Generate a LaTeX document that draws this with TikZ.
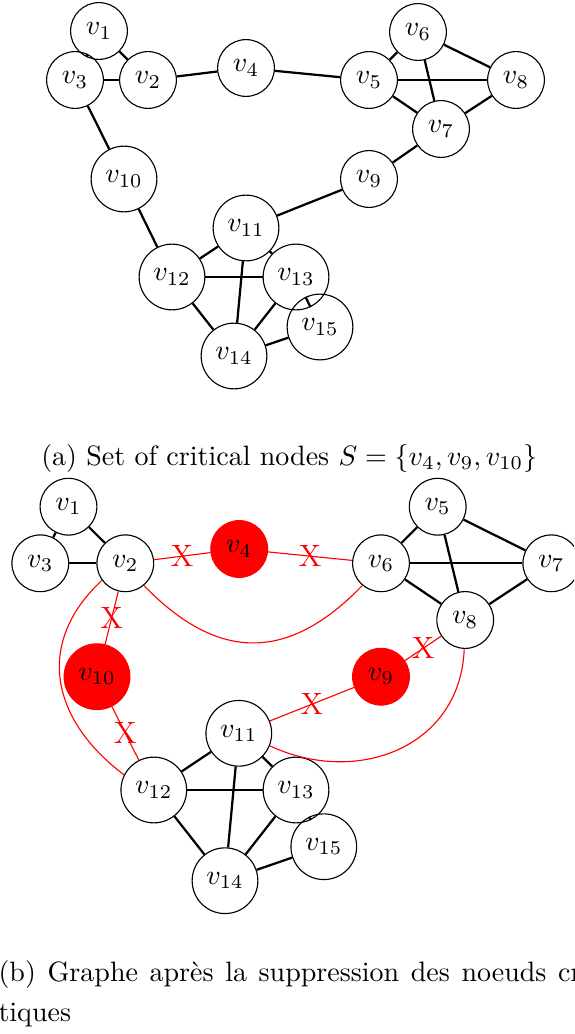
\documentclass[tikz,border=0pt]{standalone}
\begin{document}
\begin{tikzpicture}[x=0.35714pt,y=-0.35714pt,
  vtx/.style={circle,draw,thin},
  crit/.style={circle,fill=red,draw=red,thin},
  edge/.style={thick},
  redge/.style={red,thin},
  xmark/.style={text=red,font=\fontsize{11}{13}\selectfont,inner sep=0pt}]
\clip (0,0) rectangle (574,1034);
% ---------- (a) ----------
\node[vtx] (a1) at (99,31) {$v_1$};
\node[vtx] (a3) at (75,80) {$v_3$};
\node[vtx] (a2) at (148,80) {$v_2$};
\node[vtx] (a4) at (246,68) {$v_4$};
\node[vtx] (a5) at (369,80) {$v_5$};
\node[vtx] (a6) at (418,32) {$v_6$};
\node[vtx] (a8) at (516,80) {$v_8$};
\node[vtx] (a7) at (441,129) {$v_7$};
\node[vtx] (a9) at (369,179) {$v_9$};
\node[vtx] (a10) at (124,179) {$v_{10}$};
\node[vtx] (a11) at (246,228) {$v_{11}$};
\node[vtx] (a12) at (172,277) {$v_{12}$};
\node[vtx] (a13) at (296,277) {$v_{13}$};
\node[vtx] (a14) at (234,356) {$v_{14}$};
\node[vtx] (a15) at (320,327) {$v_{15}$};
\draw[edge] (a1) -- (a2);
\draw[edge] (a1) -- (a3);
\draw[edge] (a3) -- (a2);
\draw[edge] (a2) -- (a4);
\draw[edge] (a4) -- (a5);
\draw[edge] (a5) -- (a6);
\draw[edge] (a5) -- (a8);
\draw[edge] (a5) -- (a7);
\draw[edge] (a6) -- (a8);
\draw[edge] (a6) -- (a7);
\draw[edge] (a7) -- (a8);
\draw[edge] (a7) -- (a9);
\draw[edge] (a9) -- (a11);
\draw[edge] (a3) -- (a10);
\draw[edge] (a10) -- (a12);
\draw[edge] (a11) -- (a12);
\draw[edge] (a11) -- (a13);
\draw[edge] (a11) -- (a14);
\draw[edge] (a12) -- (a13);
\draw[edge] (a12) -- (a14);
\draw[edge] (a13) -- (a14);
\draw[edge] (a13) -- (a15);
\draw[edge] (a14) -- (a15);
\node[anchor=base west,inner sep=0pt] (capa) at (40.7,465) {(a) Set of critical nodes $S=\{v_4,v_9,v_{10}\}$};
% ---------- (b) ----------
\node[vtx] (b1) at (68.5,506.7) {$v_1$};
\node[vtx] (b3) at (40.3,563.3) {$v_3$};
\node[vtx] (b2) at (125.3,563.3) {$v_2$};
\node[crit] (b4) at (239.2,549) {$v_4$};
\node[vtx] (b6) at (381,563.3) {$v_6$};
\node[vtx] (b5) at (437.7,506.7) {$v_5$};
\node[vtx] (b7) at (551.3,563.3) {$v_7$};
\node[vtx] (b8) at (465.2,620) {$v_8$};
\node[crit] (b10) at (97,676.7) {$v_{10}$};
\node[crit] (b9) at (381,676.7) {$v_9$};
\node[vtx] (b11) at (238.8,733.3) {$v_{11}$};
\node[vtx] (b12) at (153.8,790) {$v_{12}$};
\node[vtx] (b13) at (296,790) {$v_{13}$};
\node[vtx] (b14) at (225,880.7) {$v_{14}$};
\node[vtx] (b15) at (323.8,846.7) {$v_{15}$};
\draw[edge] (b1) -- (b2);
\draw[edge] (b1) -- (b3);
\draw[edge] (b3) -- (b2);
\draw[edge] (b6) -- (b5);
\draw[edge] (b6) -- (b7);
\draw[edge] (b6) -- (b8);
\draw[edge] (b5) -- (b7);
\draw[edge] (b5) -- (b8);
\draw[edge] (b7) -- (b8);
\draw[edge] (b11) -- (b12);
\draw[edge] (b11) -- (b13);
\draw[edge] (b11) -- (b14);
\draw[edge] (b12) -- (b13);
\draw[edge] (b12) -- (b14);
\draw[edge] (b13) -- (b14);
\draw[edge] (b13) -- (b15);
\draw[edge] (b14) -- (b15);
\draw[redge] (b2) -- node[xmark]{X} (b4);
\draw[redge] (b4) -- node[xmark]{X} (b6);
\draw[redge] (b2) -- node[xmark]{X} (b10);
\draw[redge] (b10) -- node[xmark]{X} (b12);
\draw[redge] (b8) -- node[xmark]{X} (b9);
\draw[redge] (b9) -- node[xmark]{X} (b11);
\draw[redge] (b2.-50) to[out=-46,in=-134,looseness=1.25] (b6.-130);
\draw[redge] (b2.216) to[out=223,in=143,looseness=1.2] (b12.153);
\draw[redge] (b8.-92) to[out=-92,in=-25,looseness=1.15] (b11.-22);
\node[anchor=base west,inner sep=0pt] (capb1) at (-2,981.7) {\makebox[214.3pt][s]{(b) Graphe apr\`es la suppression des noeuds cri-}};
\node[anchor=base west,inner sep=0pt] (capb2) at (-2,1021.7) {tiques};
\end{tikzpicture}
\end{document}
